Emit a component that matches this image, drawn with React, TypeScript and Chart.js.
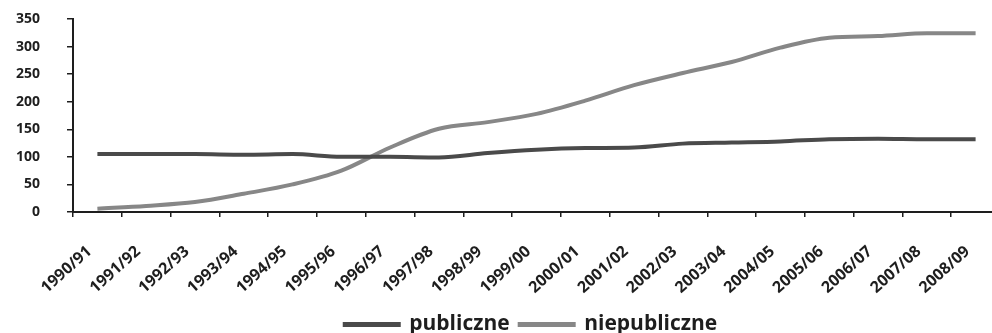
import React, { useEffect, useRef } from "react";
import { Chart, registerables } from "chart.js";

Chart.register(...registerables);

// School years on the category axis
const seasons = [
  "1990/91", "1991/92", "1992/93", "1993/94", "1994/95", "1995/96", "1996/97",
  "1997/98", "1998/99", "1999/00", "2000/01", "2001/02", "2002/03", "2003/04",
  "2004/05", "2005/06", "2006/07", "2007/08", "2008/09",
];

// Number of schools by type
const publiczne = [105, 105, 105, 104, 105, 100, 100, 99, 107, 113, 116, 117, 124, 126, 128, 132, 133, 132, 132];
const niepubliczne = [6, 11, 18, 33, 50, 75, 117, 151, 163, 178, 202, 230, 252, 272, 298, 316, 319, 324, 324];

const Y_MAX = 350;
const Y_STEP = 50;

const FONT = "'Open Sans', 'Noto Sans', sans-serif";
const INK = "#1e1e1e";

const noVerticalPadding = (s: any) => {
  s.paddingTop = 0;
  s.paddingBottom = 0;
};

export default function App() {
  const ref = useRef<HTMLCanvasElement>(null);

  useEffect(() => {
    if (!ref.current) return;
    const chart = new Chart(ref.current, {
      type: "line",
      data: {
        labels: seasons,
        datasets: [
          {
            label: "publiczne",
            data: publiczne,
            borderColor: "#4a4a4a",
            backgroundColor: "#4a4a4a",
            borderWidth: 4,
            pointRadius: 0,
            cubicInterpolationMode: "monotone",
          },
          {
            label: "niepubliczne",
            data: niepubliczne,
            borderColor: "#878787",
            backgroundColor: "#878787",
            borderWidth: 4,
            pointRadius: 0,
            cubicInterpolationMode: "monotone",
          },
        ],
      },
      options: {
        responsive: false,
        maintainAspectRatio: false,
        animation: false,
        layout: { autoPadding: false, padding: { left: 0, top: 19, right: 0, bottom: 0 } },
        plugins: {
          tooltip: { enabled: false },
          legend: {
            position: "bottom",
            labels: {
              boxWidth: 54,
              boxHeight: 1,
              padding: 10,
              color: INK,
              font: { family: FONT, size: 21, weight: "bold" },
            },
          },
        },
        scales: {
          x: {
            offset: true,
            grid: {
              offset: true,
              drawOnChartArea: false,
              tickLength: 5,
              color: INK,
              lineWidth: 1.5,
            },
            border: { color: INK, width: 2 },
            ticks: {
              autoSkip: false,
              minRotation: 42,
              maxRotation: 42,
              padding: 25,
              labelOffset: -8,
              color: INK,
              font: { family: FONT, size: 16, weight: "bold" },
            },
            afterFit: (s: any) => {
              s.height = 92;
            },
          },
          y: {
            min: 0,
            max: Y_MAX,
            ticks: {
              stepSize: Y_STEP,
              padding: 27,
              color: INK,
              font: { family: FONT, size: 14, weight: "bold" },
            },
            grid: {
              drawOnChartArea: false,
              tickLength: 6,
              color: INK,
              lineWidth: 1.5,
            },
            border: { color: INK, width: 2 },
            afterFit: (s: any) => {
              s.width = 73;
              noVerticalPadding(s);
            },
          },
          // empty right-hand band that keeps the plot and the legend in place
          side: {
            type: "linear",
            position: "right",
            display: true,
            grid: { display: false, drawTicks: false },
            border: { display: false },
            ticks: { display: false },
            afterFit: (s: any) => {
              s.width = 62;
              noVerticalPadding(s);
            },
          },
        },
      },
    });
    return () => chart.destroy();
  }, []);

  return (
    <div
      style={{
        position: "fixed",
        left: 0,
        top: 0,
        width: 992,
        height: 333,
        overflow: "hidden",
        background: "#fff",
      }}
    >
      <canvas ref={ref} width={1062} height={345} />
    </div>
  );
}
